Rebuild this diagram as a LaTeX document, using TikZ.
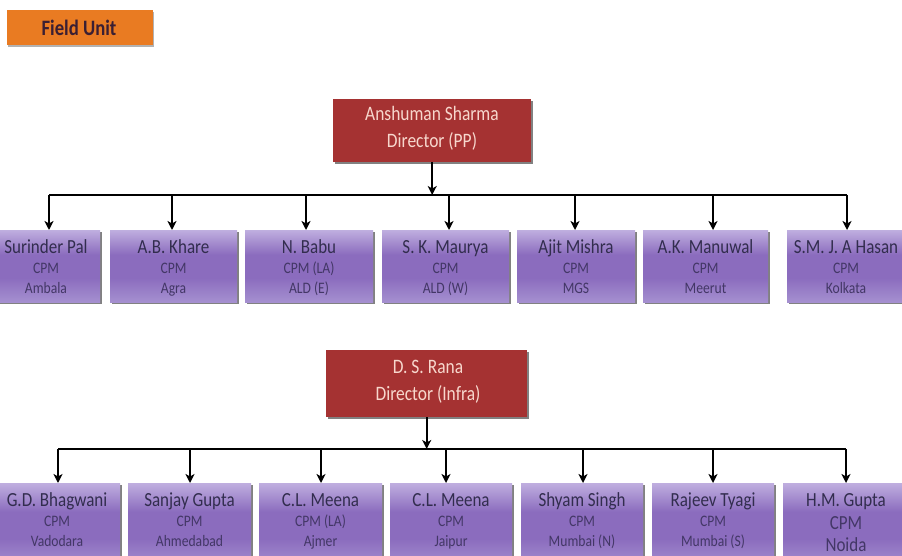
\documentclass[tikz,border=0pt]{standalone}
\usepackage{fontspec}
\setmainfont{Carlito}[FakeStretch=0.85]
\usetikzlibrary{arrows.meta,shadows}

\definecolor{lavtop}{HTML}{BFAEDF}
\definecolor{lavmid}{HTML}{8B6CBE}
\definecolor{lavbot}{HTML}{A590D0}
\definecolor{namecol}{HTML}{322D4E}
\definecolor{subcol}{HTML}{433766}
\definecolor{dirred}{HTML}{A53232}
\definecolor{dirtext}{HTML}{F7D7CD}
\definecolor{orangebox}{HTML}{E97B22}
\definecolor{fieldtext}{HTML}{3A1F33}

\pgfdeclareverticalshading{lavshade}{100bp}{%
  color(0bp)=(lavbot); color(25bp)=(lavbot); color(42bp)=(lavmid);
  color(58bp)=(lavmid); color(75bp)=(lavtop); color(100bp)=(lavtop)}

\tikzset{
  conn/.style={line width=1.6pt, black},
  arr/.style={conn, -{Stealth[length=9pt,width=9pt,inset=2.5pt]}},
  cpmbox/.style={anchor=north west, inner sep=0pt, shading=lavshade,
    minimum height=#1,
    drop shadow={shadow xshift=1.5pt, shadow yshift=-2pt, opacity=0.7, fill=black!70}},
  dirbox/.style={anchor=north west, inner sep=0pt, fill=dirred,
    drop shadow={shadow xshift=1.5pt, shadow yshift=-2pt, opacity=0.7, fill=black!70}},
  nametext/.style={anchor=base, inner sep=0pt, text=namecol, font=\fontsize{20}{23}\selectfont},
  subtext/.style={anchor=base, inner sep=0pt, text=subcol, font=\fontsize{16}{19}\selectfont},
  bigsub/.style={anchor=base, inner sep=0pt, text=subcol, font=\fontsize{20}{23}\selectfont},
  dirtxt/.style={anchor=base, inner sep=0pt, text=dirtext, font=\fontsize{20.5}{24}\selectfont},
}

\begin{document}
\begin{tikzpicture}[x=1pt,y=-1pt]
\useasboundingbox (0,0) rectangle (902,556);
\clip (0,0) rectangle (902,556);

% heading tag
\node[anchor=north west, inner sep=0pt, fill=orangebox, minimum width=146pt, minimum height=35pt,
  drop shadow={shadow xshift=1pt, shadow yshift=-1.5pt, opacity=0.5, fill=black!60}] (field) at (7,10) {};
\node[inner sep=0pt, text=fieldtext, font=\fontsize{22}{25}\selectfont\bfseries] (fieldlbl) at (79,28) {Field Unit};

% ---------------- upper group ----------------
\node[dirbox, minimum width=198pt, minimum height=63pt] (dirPP) at (333,99) {};
\node[dirtxt] (dirPPa) at (432,121) {Anshuman Sharma};
\node[dirtxt] (dirPPb) at (432,148) {Director (PP)};

\foreach \xl/\xr/\ax/\nm/\ro/\ct [count=\i] in {
  -8/100/49/Surinder Pal/CPM/Ambala,
  110/237/172/A.B. Khare/CPM/Agra,
  245/373/306/N. Babu/CPM (LA)/ALD (E),
  382/509/449/S. K. Maurya/CPM/ALD (W),
  517/635/575/Ajit Mishra/CPM/MGS,
  643/768/713/A.K. Manuwal/CPM/Meerut,
  787/905/847/S.M. J. A Hasan/CPM/Kolkata}{
  \pgfmathsetmacro\w{\xr-\xl}
  \pgfmathsetmacro\cx{(\xl+\xr)/2}
  \node[cpmbox=72pt, minimum width=\w pt] (up\i) at (\xl,230) {};
  \node[nametext] (up\i n) at (\cx,253) {\nm};
  \node[subtext] (up\i r) at (\cx,273) {\ro};
  \node[subtext] (up\i c) at (\cx,293) {\ct};
  \coordinate (ubus\i) at (\ax,195);
  \draw[arr] (ubus\i) -- (ubus\i |- up\i.north);
}
\draw[conn] (ubus1) -- (ubus7);
\draw[arr] (dirPP.south) -- (dirPP.south |- ubus1);

% ---------------- lower group ----------------
\node[dirbox, minimum width=201pt, minimum height=67pt] (dirIN) at (326,350) {};
\node[dirtxt] (dirINa) at (428,373) {D. S. Rana};
\node[dirtxt] (dirINb) at (428,400) {Director (Infra)};

\foreach \xl/\xr/\ax/\nm/\ro/\ct [count=\i] in {
  -6/120/58/G.D. Bhagwani/CPM/Vadodara,
  128/251/190/Sanjay Gupta/CPM/Ahmedabad,
  259/382/321/C.L. Meena/CPM (LA)/Ajmer,
  390/512/446/C.L. Meena/CPM/Jaipur,
  521/643/583/Shyam Singh/CPM/Mumbai (N),
  652/774/713/Rajeev Tyagi/CPM/Mumbai (S)}{
  \pgfmathsetmacro\w{\xr-\xl}
  \pgfmathsetmacro\cx{(\xl+\xr)/2}
  \node[cpmbox=84pt, minimum width=\w pt] (lo\i) at (\xl,483) {};
  \node[nametext] (lo\i n) at (\cx,506) {\nm};
  \node[subtext] (lo\i r) at (\cx,526) {\ro};
  \node[subtext] (lo\i c) at (\cx,546) {\ct};
  \coordinate (lbus\i) at (\ax,449);
  \draw[arr] (lbus\i) -- (lbus\i |- lo\i.north);
}
\node[cpmbox=84pt, minimum width=132pt] (lo7) at (783,483) {};
\node[nametext] (lo7n) at (846,506) {H.M. Gupta};
\node[bigsub] (lo7r) at (846,529) {CPM};
\node[bigsub] (lo7c) at (846,551) {Noida};
\coordinate (lbus7) at (846,449);
\draw[arr] (lbus7) -- (lbus7 |- lo7.north);

\draw[conn] (lbus1) -- (lbus7);
\draw[arr] (dirIN.south) -- (dirIN.south |- lbus1);
\end{tikzpicture}
\end{document}
